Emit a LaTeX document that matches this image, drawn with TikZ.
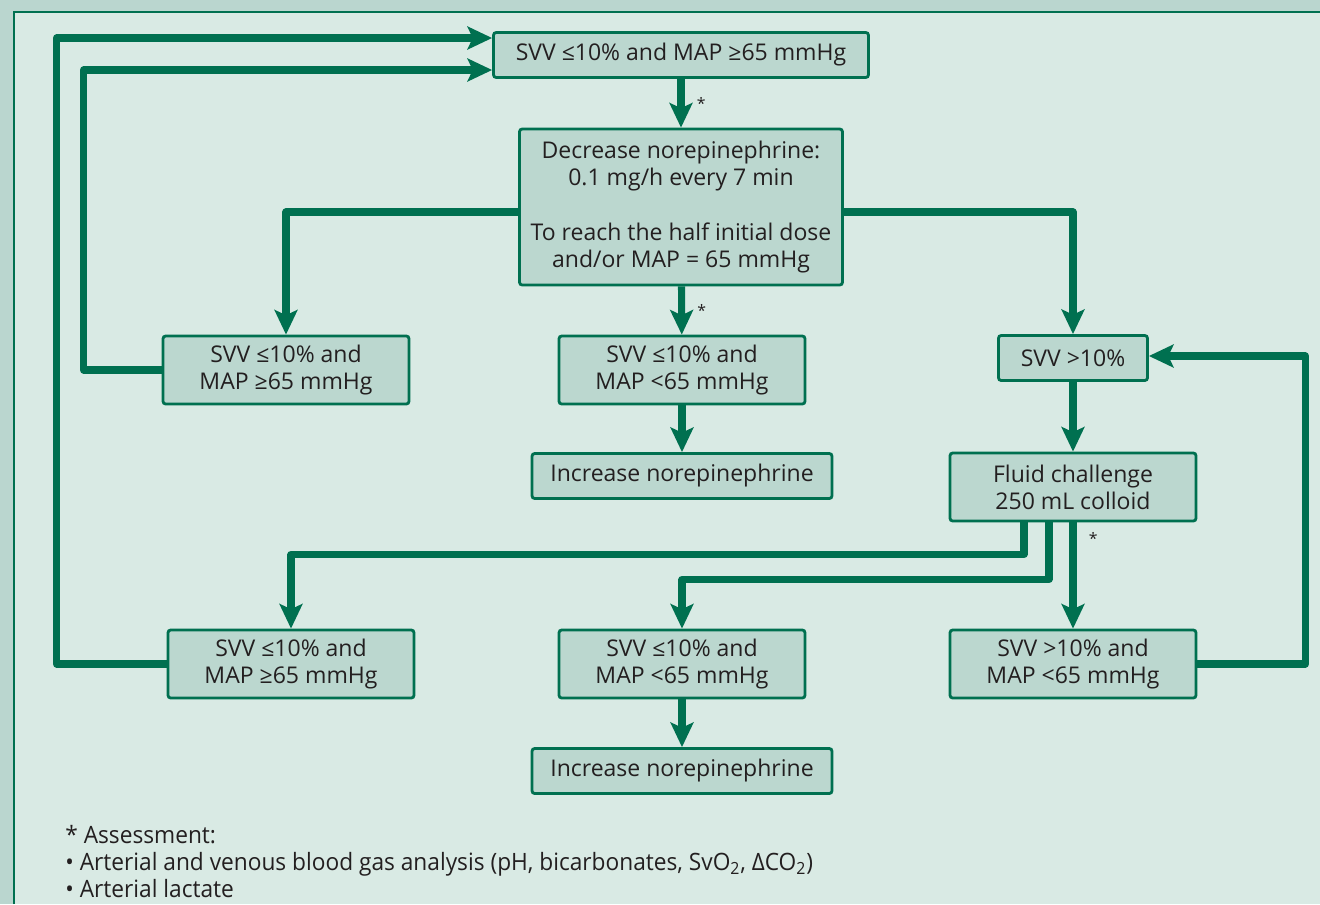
\documentclass[tikz,border=0pt]{standalone}
\usepackage{fontspec}
\setmainfont{Open Sans}
\newfontfamily\notefont[FakeStretch=0.95]{Open Sans}
\usepackage{xcolor}
\usepackage{tikz}
\usetikzlibrary{arrows.meta,calc}
\definecolor{flow}{RGB}{0,112,80}
\definecolor{boxfill}{RGB}{187,215,207}
\definecolor{panel}{RGB}{217,234,228}
\definecolor{outer}{RGB}{186,214,207}
\definecolor{ink}{RGB}{35,31,32}

\begin{document}
\begin{tikzpicture}[
    x=0.02cm,y=-0.02cm,
    font=\fontsize{13.1}{15.5}\selectfont,
    box/.style={rectangle,rounded corners=1.5pt,draw=flow,line width=1.6pt,fill=boxfill,text=ink,align=center,inner sep=2pt,minimum width=#1},
    box/.default=4.92cm,
    arrow/.style={-{Stealth[length=14pt,width=13pt,inset=3pt]},line width=4pt,draw=flow,line join=round},
    star/.style={text=ink,font=\small,inner sep=2pt}
]
\useasboundingbox (0,0) rectangle (1320,904);
\fill[outer] (0,0) rectangle (1320,904);
\fill[panel] (14,12) rectangle (1320,904);
\draw[flow,line width=1.2pt] (14,904) -- (14,12) -- (1320,12);

% boxes
\node[box=7.5cm,minimum height=0.9cm] (top) at (681,55) {SVV ≤10\% and MAP ≥65 mmHg};
\node[box=6.46cm,minimum height=3.12cm] (dec) at (681,207) {Decrease norepinephrine:\\0.1 mg/h every 7 min\\[15.5pt]To reach the half initial dose\\and/or MAP = 65 mmHg};
\node[box,minimum height=1.36cm] (left1) at (286,370) {SVV ≤10\% and\\MAP ≥65 mmHg};
\node[box,minimum height=1.36cm] (mid1) at (682,370) {SVV ≤10\% and\\MAP <65 mmHg};
\node[box=6cm,minimum height=0.9cm] (inc1) at (682,476) {Increase norepinephrine};
\node[box=2.98cm,minimum height=0.9cm] (svv) at (1073,358) {SVV >10\%};
\node[box,minimum height=1.36cm] (fluid) at (1073,487) {Fluid challenge\\250 mL colloid};
\node[box,minimum height=1.36cm] (left2) at (291,664) {SVV ≤10\% and\\MAP ≥65 mmHg};
\node[box,minimum height=1.36cm] (mid2) at (682,664) {SVV ≤10\% and\\MAP <65 mmHg};
\node[box,minimum height=1.36cm] (right2) at (1073,664) {SVV >10\% and\\MAP <65 mmHg};
\node[box=6cm,minimum height=0.9cm] (inc2) at (682,771) {Increase norepinephrine};

% connectors
\draw[arrow] (top) -- node[star,right=5pt]{*} (dec);
\draw[arrow] ($(dec.west)+(0,5)$) -| (left1.north);
\draw[arrow] ($(dec.east)+(0,5)$) -| (svv.north);
\draw[arrow] (dec) -- node[star,right=5pt]{*} (mid1);
\draw[arrow] (mid1) -- (inc1);
\draw[arrow] (left1.west) -- ++(-78,0) |- ($(top.west)+(0,15)$);
\draw[arrow] (left2.west) -- ++(-110,0) |- ($(top.west)+(0,-17)$);
\draw[arrow] (svv) -- (fluid);
\draw[arrow] ($(fluid.south)+(-49,0)$) -- ++(0,32) -| (left2.north);
\draw[arrow] ($(fluid.south)+(-24,0)$) -- ++(0,57) -| (mid2.north);
\draw[arrow] (fluid) -- node[star,right=5pt,pos=0.15]{*} (right2);
\draw[arrow] (right2.east) -- ++(108,0) |- ($(svv.east)+(0,-2)$);
\draw[arrow] (mid2) -- (inc2);

% footnote
\node[anchor=north west,align=left,text=ink,inner sep=0pt,font=\notefont\fontsize{13.6}{15.5}\selectfont] (note) at (65,825) {* Assessment:\\• Arterial and venous blood gas analysis (pH, bicarbonates, SvO\textsubscript{2}, ΔCO\textsubscript{2})\\• Arterial lactate};
\end{tikzpicture}
\end{document}
